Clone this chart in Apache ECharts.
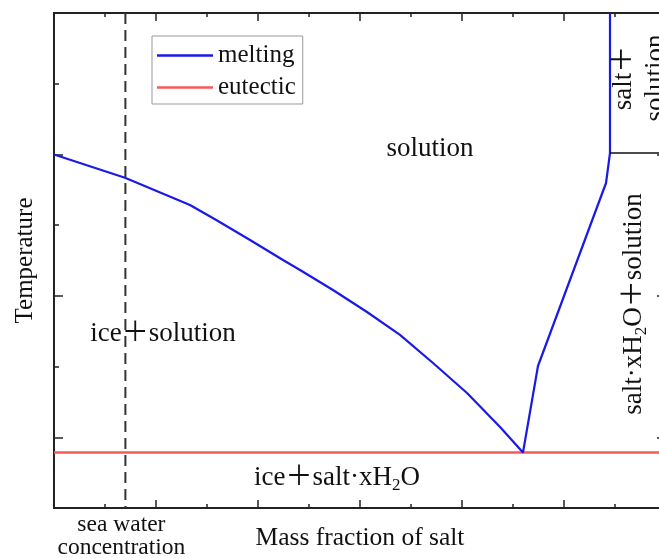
<!DOCTYPE html>
<html>
<head>
<meta charset="utf-8">
<title>Phase diagram of a salt–water system</title>
<script src="https://cdn.jsdelivr.net/npm/echarts@6/dist/echarts.min.js"></script>
<style>
  html, body { margin: 0; padding: 0; background: #fff; }
  #chart { width: 659px; height: 558px; }
</style>
</head>
<body>
<div id="chart"></div>
<script>
// Liquidus ("melting") curve: ice branch down to the eutectic, then the salt-hydrate branch up
const meltX = [0, 0.696, 1.333, 1.595, 1.922, 2.245, 2.412, 2.735, 3.069, 3.392, 3.716, 4.049, 4.373, 4.598, 4.745, 5.412, 5.451, 5.451];
const meltY = [5.0, 4.67, 4.285, 4.07, 3.79, 3.507, 3.366, 3.083, 2.772, 2.447, 2.05, 1.626, 1.146, 0.785, 2.008, 4.596, 5.02, 7.0];

// Eutectic temperature, spanning the whole composition range
const eutecticX = [0, 6];
const eutecticY = [0.785, 0.785];

// Boundary between "salt + solution" and "salt·xH2O + solution"
const hydrateX = [5.451, 6];
const hydrateY = [5.02, 5.02];

// Sea-water composition marker
const seaWaterX = 0.7;
const seaWaterText = 'sea water\nconcentration';

// Axis ranges and tick values (no numeric labels are drawn)
const xRange = [0, 6];
const yRange = [0, 7];
const yMajorTicks = [1, 3, 5, 7];
const yMinorTicks = [0, 2, 4, 6];

// Phase-region names, placed in data coordinates
const regionText = ['solution', 'ice＋solution', 'ice＋salt·xH{sub|2}O', 'salt·xH{sub|2}O＋solution', 'salt＋\nsolution'];
const regionX = [3.686, 1.069, 2.775, 5.686, 5.745];
const regionY = [5.077, 2.461, 0.424, 2.885, 6.08];
const regionRotate = [0, 0, 0, 90, 90];

const zip = (xs, ys) => xs.map((x, i) => [x, ys[i]]);

const SERIF = "'Liberation Serif', 'Times New Roman', 'Noto Sans CJK SC', serif";
const INK = '#111';
const AXIS = '#222';
const BLUE = '#1a1ae6';
const RED = '#f45a5a';

const chart = echarts.init(document.getElementById('chart'), null, { renderer: 'canvas' });

const xAxisBase = {
  type: 'value',
  min: xRange[0],
  max: xRange[1],
  interval: 1,
  axisLine: { show: true, onZero: false, lineStyle: { color: AXIS, width: 2 } },
  axisTick: { show: true, inside: true, length: 8, lineStyle: { color: AXIS, width: 1.5 } },
  minorTick: { show: true, splitNumber: 2, length: 4, lineStyle: { color: AXIS, width: 1.5 } },
  splitLine: { show: false },
  minorSplitLine: { show: false }
};

const yAxisBase = {
  type: 'value',
  min: yRange[0],
  max: yRange[1],
  interval: 1,
  axisLine: { show: true, onZero: false, lineStyle: { color: AXIS, width: 2 } },
  axisLabel: { show: false },
  splitLine: { show: false }
};

const richSub = {
  sub: { fontSize: 17, lineHeight: 14, verticalAlign: 'bottom', fontFamily: SERIF, color: INK }
};

chart.setOption({
  animation: false,
  backgroundColor: '#fff',
  grid: { left: 54, right: -7, top: 13, bottom: 50, containLabel: false, outerBoundsMode: 'none' },
  legend: {
    data: [
      { name: 'melting', icon: 'rect', itemStyle: { color: BLUE } },
      { name: 'eutectic', icon: 'rect', itemStyle: { color: RED } }
    ],
    orient: 'vertical',
    left: 152,
    top: 36,
    itemWidth: 56,
    itemHeight: 2.5,
    itemGap: 7,
    padding: [7, 7, 4, 5],
    borderColor: '#999',
    borderWidth: 1,
    textStyle: { fontSize: 25, lineHeight: 25, fontFamily: SERIF, color: INK }
  },
  xAxis: [
    Object.assign({}, xAxisBase, {
      position: 'bottom',
      name: 'Mass fraction of salt',
      nameLocation: 'middle',
      nameGap: 18,
      nameMoveOverlap: false,
      nameTextStyle: { fontSize: 25.5, fontFamily: SERIF, color: INK, verticalAlign: 'top' },
      axisLabel: {
        show: true,
        customValues: [seaWaterX],
        formatter: () => seaWaterText,
        fontSize: 23.5,
        lineHeight: 23,
        fontFamily: SERIF,
        color: INK,
        margin: 5,
        padding: [0, 8, 0, 0]
      }
    }),
    Object.assign({}, xAxisBase, {
      position: 'top',
      axisLabel: { show: false }
    })
  ],
  yAxis: [
    Object.assign({}, yAxisBase, {
      position: 'left',
      name: 'Temperature',
      nameLocation: 'middle',
      nameGap: 16,
      nameTextStyle: { fontSize: 25, fontFamily: SERIF, color: INK },
      axisTick: { show: true, inside: true, length: 9, customValues: yMajorTicks, lineStyle: { color: AXIS, width: 1.5 } }
    }),
    Object.assign({}, yAxisBase, {
      position: 'left',
      axisTick: { show: true, inside: true, length: 5, customValues: yMinorTicks, lineStyle: { color: AXIS, width: 1.5 } }
    }),
    Object.assign({}, yAxisBase, {
      position: 'right',
      axisTick: { show: true, inside: true, length: 9, customValues: yMajorTicks, lineStyle: { color: AXIS, width: 1.5 } }
    })
  ],
  series: [
    {
      name: 'eutectic',
      type: 'line',
      data: zip(eutecticX, eutecticY),
      symbol: 'none',
      lineStyle: { color: RED, width: 2.5 },
      itemStyle: { color: RED },
      z: 2
    },
    {
      name: 'melting',
      type: 'line',
      data: zip(meltX, meltY),
      symbol: 'none',
      lineStyle: { color: BLUE, width: 2.2 },
      itemStyle: { color: BLUE },
      z: 3
    },
    {
      name: 'hydrate boundary',
      type: 'line',
      data: zip(hydrateX, hydrateY),
      symbol: 'none',
      lineStyle: { color: '#111', width: 1.5 },
      z: 3
    },
    {
      name: 'sea water',
      type: 'line',
      data: [[seaWaterX, yRange[1]], [seaWaterX, yRange[0]]],
      symbol: 'none',
      lineStyle: { color: '#333', width: 2, type: [11, 6] },
      z: 1
    },
    {
      name: 'regions',
      type: 'scatter',
      silent: true,
      symbolSize: 1,
      itemStyle: { color: 'rgba(255,255,255,0)', opacity: 1 },
      label: {
        show: true,
        position: 'inside',
        fontSize: 27,
        lineHeight: 32,
        fontFamily: SERIF,
        color: INK,
        opacity: 1,
        textBorderWidth: 0,
        rich: richSub,
        formatter: (p) => p.data.text
      },
      data: regionText.map((t, i) => ({
        value: [regionX[i], regionY[i]],
        text: t,
        label: { rotate: regionRotate[i] }
      })),
      z: 5
    }
  ]
});
</script>
</body>
</html>
